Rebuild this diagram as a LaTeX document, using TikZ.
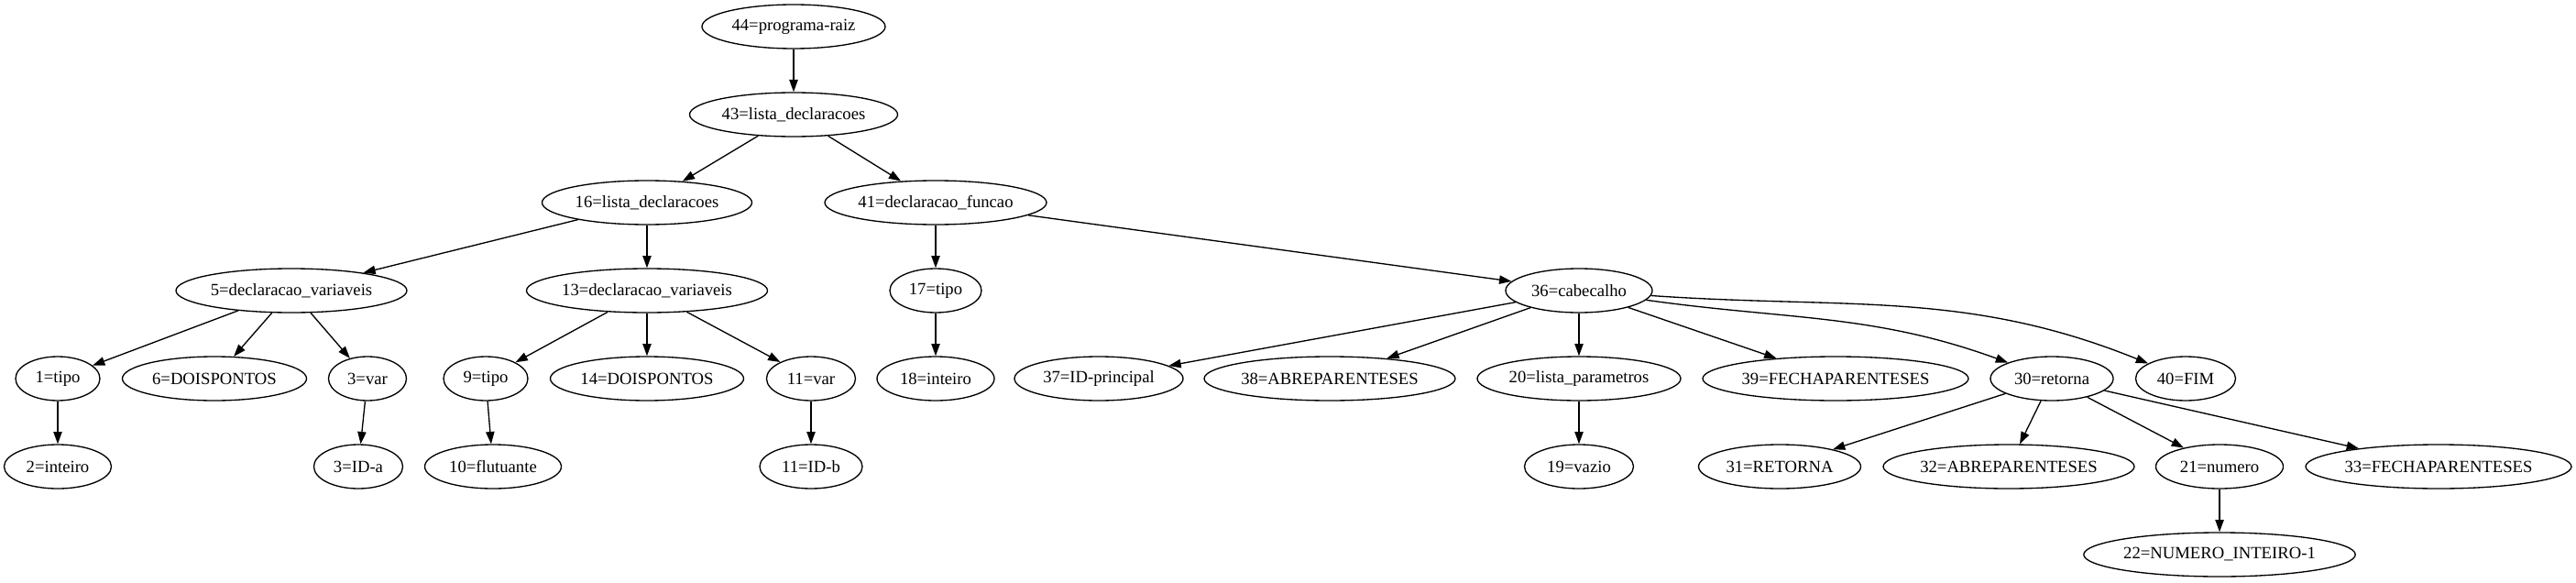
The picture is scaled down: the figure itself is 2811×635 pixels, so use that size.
\documentclass[tikz,border=0pt]{standalone}
\usepackage{fontspec}
\setmainfont{Liberation Serif}
\usepackage{tikz}
\usetikzlibrary{shapes.geometric,arrows.meta}

\begin{document}
\begin{tikzpicture}[x=0.75pt, y=-0.75pt, line width=1pt, >={Triangle[length=10pt,width=7pt]},
		tok/.style={ellipse, draw, inner sep=0pt, minimum height=36pt, minimum width=#1*0.75pt,
			font=\fontsize{14}{16}\selectfont},
		edge/.style={->}]
		\useasboundingbox (0,0) rectangle (2811,635);
		
		% upper levels
		\node[tok=200] (n44) at (866,29) {44=programa-raiz};
		\node[tok=227] (n43) at (866,125) {43=lista\_declaracoes};
		\node[tok=229] (n16) at (706,221) {16=lista\_declaracoes};
		\node[tok=242] (n41) at (1021,221) {41=declaracao\_funcao};
		
		\node[tok=252] (n5) at (318,317) {5=declaracao\_variaveis};
		\node[tok=263] (n13) at (706,317) {13=declaracao\_variaveis};
		\node[tok=100] (n17) at (1021,317) {17=tipo};
		\node[tok=160] (n36) at (1723,317) {36=cabecalho};
		
		% declarations
		\node[tok=92] (n1) at (63,413) {1=tipo};
		\node[tok=201] (n6) at (234,413) {6=DOISPONTOS};
		\node[tok=85] (n3v) at (401,413) {3=var};
		\node[tok=92] (n9) at (530,413) {9=tipo};
		\node[tok=211] (n14) at (706,413) {14=DOISPONTOS};
		\node[tok=97] (n11v) at (885,413) {11=var};
		\node[tok=128] (n18) at (1021,413) {18=inteiro};
		
		\node[tok=117] (n2) at (63,509) {2=inteiro};
		\node[tok=97] (n3a) at (391,509) {3=ID-a};
		\node[tok=149] (n10) at (538,509) {10=flutuante};
		\node[tok=112] (n11b) at (885,509) {11=ID-b};
		
		% function header
		\node[tok=184] (n37) at (1199,413) {37=ID-principal};
		\node[tok=274] (n38) at (1451,413) {38=ABREPARENTESES};
		\node[tok=222] (n20) at (1723,413) {20=lista\_parametros};
		\node[tok=290] (n39) at (2003,413) {39=FECHAPARENTESES};
		\node[tok=134] (n30) at (2239,413) {30=retorna};
		\node[tok=109] (n40) at (2385,413) {40=FIM};
		
		\node[tok=119] (n19) at (1723,509) {19=vazio};
		\node[tok=177] (n31) at (1942,509) {31=RETORNA};
		\node[tok=274] (n32) at (2192,509) {32=ABREPARENTESES};
		\node[tok=139] (n21) at (2422,509) {21=numero};
		\node[tok=290] (n33) at (2661,509) {33=FECHAPARENTESES};
		\node[tok=294] (n22) at (2422,605) {22=NUMERO\_INTEIRO-1};
		
		% edges
		\draw[edge] (n44) -- (n43);
		\draw[edge] (n43) -- (n16);
		\draw[edge] (n43) -- (n41);
		\draw[edge] (n16) -- (n5);
		\draw[edge] (n16) -- (n13);
		\draw[edge] (n41) -- (n17);
		\draw[edge] (n41) -- (n36);
		\draw[edge] (n5) -- (n1);
		\draw[edge] (n5) -- (n6);
		\draw[edge] (n5) -- (n3v);
		\draw[edge] (n13) -- (n9);
		\draw[edge] (n13) -- (n14);
		\draw[edge] (n13) -- (n11v);
		\draw[edge] (n17) -- (n18);
		\draw[edge] (n1) -- (n2);
		\draw[edge] (n3v) -- (n3a);
		\draw[edge] (n9) -- (n10);
		\draw[edge] (n11v) -- (n11b);
		\draw[edge] (n36) -- (n37);
		\draw[edge] (n36) -- (n38);
		\draw[edge] (n36) -- (n20);
		\draw[edge] (n36) -- (n39);
		\draw[edge] (n36) to[out=-8, in=160] (n30);
		\draw[edge] (n36) to[out=-4, in=158] (n40);
		\draw[edge] (n20) -- (n19);
		\draw[edge] (n30) -- (n31);
		\draw[edge] (n30) -- (n32);
		\draw[edge] (n30) -- (n21);
		\draw[edge] (n30) -- (n33);
		\draw[edge] (n21) -- (n22);
	\end{tikzpicture}
\end{document}
